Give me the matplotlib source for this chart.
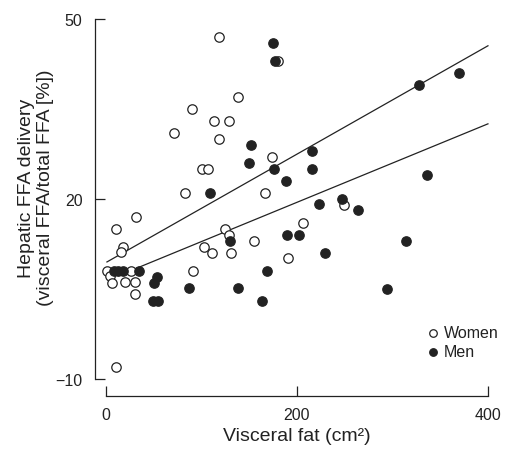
import numpy as np
import matplotlib
matplotlib.use('Agg')
import matplotlib.pyplot as plt

plt.rcParams['font.family'] = ['Liberation Sans', 'DejaVu Sans']

# open circles
women_x = [118.6, 180.5, 137.9, 89.7, 113.4, 128.8, 71.5, 118.6, 173.5, 100.2,
           106.4, 82.7, 166.2, 31.8, 10.1, 124.6, 129.0, 155.0, 18.1, 15.7,
           102.6, 111.5, 130.8, 190.9, 206.0, 249.6, 1.5, 26.0, 91.0, 4.0,
           6.0, 19.9, 30.4, 30.4, 10.1]
women_y = [47.0, 42.9, 36.9, 35.0, 33.0, 33.0, 31.0, 30.0, 27.0, 25.0,
           25.0, 21.0, 21.0, 17.0, 15.0, 15.0, 14.0, 13.0, 12.0, 11.1,
           12.0, 11.0, 11.0, 10.1, 16.0, 19.0, 8.0, 8.0, 8.0, 7.1,
           6.0, 6.1, 6.1, 4.2, -8.0]

# filled circles
men_x = [175.2, 177.0, 151.5, 149.7, 176.2, 188.1, 108.9, 216.0, 216.0, 327.7,
         370.0, 335.8, 223.0, 246.8, 264.2, 129.8, 189.9, 202.1, 229.6, 313.8,
         168.9, 8.0, 13.0, 17.5, 34.9, 53.1, 50.3, 49.5, 54.8, 86.9,
         137.9, 163.0, 294.6]
men_y = [46.0, 42.9, 29.0, 26.0, 25.0, 23.0, 21.0, 28.0, 25.0, 39.0,
         41.0, 24.0, 19.1, 20.0, 18.1, 13.0, 14.0, 14.0, 11.0, 13.0,
         8.0, 8.0, 8.0, 8.0, 8.0, 7.0, 6.0, 3.0, 3.0, 5.1,
         5.1, 3.0, 5.0]

# regression lines: x range, intercept, slope
women_fit_x = [1, 400]
women_fit = [9.4, 0.0903]
men_fit_x = [13, 400]
men_fit = [6.35, 0.0654]

ink = '#222222'

fig = plt.figure(figsize=(5.06, 4.52), dpi=100)
ax = fig.add_axes([95 / 506, 1 - 396.7 / 452, 402.5 / 506, 382.8 / 452])

for fx, (b, m) in [(women_fit_x, women_fit), (men_fit_x, men_fit)]:
    fx = np.array(fx)
    ax.plot(fx, b + m * fx, color=ink, lw=0.9, zorder=1)

ax.scatter(women_x, women_y, s=46, facecolor='white', edgecolor=ink,
           linewidth=0.9, zorder=2, label='Women')
ax.scatter(men_x, men_y, s=46, facecolor=ink, edgecolor=ink,
           linewidth=0.9, zorder=3, label='Men')

ax.set_xlim(-11.5, 410)
ax.set_ylim(-12.8, 51)

for s in ['top', 'right']:
    ax.spines[s].set_visible(False)
ax.spines['left'].set_bounds(-10, 50)
ax.spines['bottom'].set_bounds(0, 400)
for s in ['left', 'bottom']:
    ax.spines[s].set_color(ink)
    ax.spines[s].set_linewidth(0.9)

ax.set_xticks([0, 200, 400])
ax.set_yticks([-10, 20, 50])
ax.set_yticklabels(['\u221210', '20', '50'])
ax.tick_params(axis='both', direction='in', length=7, width=0.9,
               color=ink, labelcolor=ink, labelsize=11.5)
ax.tick_params(axis='y', pad=9)
ax.tick_params(axis='x', pad=8)

fig.text(36 / 506, 1 - 188 / 452,
         'Hepatic FFA delivery\n(visceral FFA/total FFA [%])',
         rotation=90, ha='center', va='center', multialignment='center',
         fontsize=14, color=ink, linespacing=1.15)
fig.text(297 / 506, 1 - 437 / 452, 'Visceral fat (cm\u00b2)',
         ha='center', va='center', fontsize=14, color=ink)

leg = ax.legend(loc='center left', bbox_to_anchor=(420 / 506, 1 - 343 / 452),
                bbox_transform=fig.transFigure, frameon=False,
                handlelength=0.6, handletextpad=0.4, borderpad=0,
                labelspacing=0.25, markerscale=0.8, fontsize=11.5)
for t in leg.get_texts():
    t.set_color(ink)

fig.savefig('out.png', dpi=100)
